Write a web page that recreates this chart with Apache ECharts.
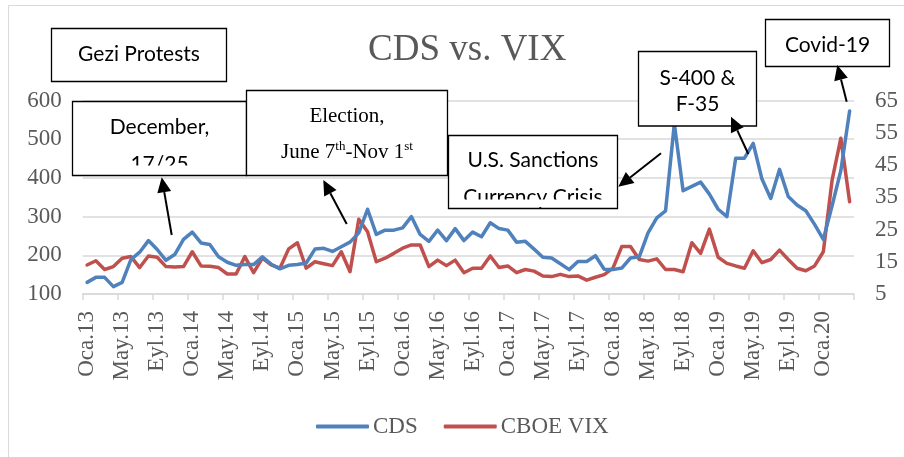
<!DOCTYPE html>
<html>
<head>
<meta charset="utf-8">
<script src="https://cdn.jsdelivr.net/npm/echarts@6/dist/echarts.min.js"></script>
<style>
  html, body { margin: 0; padding: 0; background: #ffffff; }
  #chart { width: 904px; height: 457px; }
</style>
</head>
<body>
<div id="chart"></div>
<script>
// Monthly observations, January 2013 – April 2020
const monthNames = ['Oca', 'Şub', 'Mar', 'Nis', 'May', 'Haz', 'Tem', 'Ağu', 'Eyl', 'Eki', 'Kas', 'Ara'];
const yearLabels = ['13', '14', '15', '16', '17', '18', '19', '20'];
const monthCount = 88;

// Turkey 5Y CDS (bps), left axis
const cdsValues = [
  130, 143, 143, 119, 130, 189, 208, 238, 215, 187, 202, 241,
  260, 232, 228, 196, 182, 174, 176, 176, 196, 177, 165, 174,
  176, 180, 216, 218, 210, 222, 234, 258, 319, 254, 265, 265,
  271, 300, 254, 236, 265, 238, 269, 238, 260, 248, 284, 269,
  265, 234, 236, 216, 195, 193, 178, 163, 184, 184, 199, 164,
  163, 167, 193, 196, 258, 297, 315, 540, 367, 378, 389, 358,
  319, 300, 451, 451, 489, 397, 347, 422, 352, 330, 315, 280,
  241, 328, 419, 573
];

// CBOE VIX month-end close, right axis
const vixValues = [
  14.0, 15.3, 12.6, 13.5, 16.1, 16.6, 13.2, 16.8, 16.4, 13.5, 13.4, 13.5,
  18.1, 13.7, 13.6, 13.2, 11.2, 11.2, 16.6, 11.6, 16.1, 14.0, 13.0, 19.0,
  20.9, 13.0, 15.0, 14.4, 13.8, 18.1, 11.9, 28.2, 24.3, 15.0, 16.1, 17.6,
  19.2, 20.2, 20.2, 13.5, 15.5, 13.8, 15.5, 11.6, 13.0, 13.0, 16.8, 13.2,
  13.7, 11.6, 12.6, 12.1, 10.6, 10.4, 11.1, 10.4, 10.6, 9.3, 10.2, 11.0,
  13.0, 19.7, 19.7, 15.7, 15.2, 15.9, 12.6, 12.6, 11.9, 20.9, 17.6, 25.1,
  16.4, 14.5, 13.7, 13.0, 18.4, 14.7, 15.7, 18.6, 15.7, 13.0, 12.2, 13.7,
  18.1, 40.3, 53.3, 33.6
];

const categories = [];
for (const y of yearLabels) {
  for (const m of monthNames) {
    if (categories.length < monthCount) categories.push(m + '.' + y);
  }
}

const SERIF = '"Liberation Serif", "Times New Roman", serif';
const SANS = 'Lato, "Open Sans", sans-serif';
const GREY = '#595959';
const BOX_FONT = 21;
const CDS_COLOR = '#4f81bd';
const VIX_COLOR = '#c0504d';

// Callout box with one or more centred lines
function box(x, y, w, h, lines) {
  const els = [{
    type: 'rect', z: 100,
    shape: { x: x, y: y, width: w, height: h },
    style: { fill: '#ffffff', stroke: '#000000', lineWidth: 1.3 }
  }];
  lines.forEach(function (ln) {
    els.push({
      type: 'text', z: 101,
      style: {
        text: ln.text, x: ln.x, y: ln.y,
        fill: '#000000',
        font: (ln.size || BOX_FONT) + 'px ' + (ln.family || SANS),
        align: 'center', verticalAlign: 'middle',
        textAlign: 'center', textVerticalAlign: 'middle',
        rich: ln.rich
      }
    });
  });
  return els;
}

// Strip that hides the overflowing part of a text line inside a box
function mask(x, y, w, h) {
  return {
    type: 'rect', z: 102,
    shape: { x: x, y: y, width: w, height: h },
    style: { fill: '#ffffff' }
  };
}

// Straight arrow with a filled triangular head at (x2, y2)
function arrow(x1, y1, x2, y2) {
  const dx = x2 - x1, dy = y2 - y1;
  const len = Math.sqrt(dx * dx + dy * dy);
  const ux = dx / len, uy = dy / len;
  const headLen = 15, headHalf = 7;
  const bx = x2 - ux * headLen, by = y2 - uy * headLen;
  return [
    {
      type: 'line', z: 110,
      shape: { x1: x1, y1: y1, x2: bx, y2: by },
      style: { stroke: '#000000', lineWidth: 2 }
    },
    {
      type: 'polygon', z: 110,
      shape: { points: [[x2, y2], [bx - uy * headHalf, by + ux * headHalf], [bx + uy * headHalf, by - ux * headHalf]] },
      style: { fill: '#000000' }
    }
  ];
}

const graphics = [].concat(
  [{
    type: 'rect', z: 0, silent: true,
    shape: { x: 8.5, y: 5.5, width: 910, height: 470 },
    style: { fill: 'none', stroke: '#d9d9d9', lineWidth: 1 }
  }],
  box(51.5, 28.5, 175, 53, [{ text: 'Gezi Protests', x: 139, y: 54 }]),
  box(72.5, 101.5, 174, 74, [
    { text: 'December,', x: 159.5, y: 127 },
    { text: '17/25', x: 159.5, y: 164 }
  ]),
  [mask(74, 165.5, 171, 8.5)],
  box(246.5, 90.5, 201, 85, [
    { text: 'Election,', x: 347, y: 116, family: SERIF },
    {
      text: '{m|June 7}{s|th}{m|-Nov 1}{s|st}', x: 347, y: 151, family: SERIF,
      rich: {
        m: { fontFamily: SERIF, fontSize: 21, lineHeight: 24, verticalAlign: 'bottom' },
        s: { fontFamily: SERIF, fontSize: 13, lineHeight: 24, verticalAlign: 'top', padding: [1, 0, 0, 0] }
      }
    }
  ]),
  box(448.5, 135.5, 169, 73, [
    { text: 'U.S. Sanctions', x: 533, y: 160 },
    { text: 'Currency Crisis', x: 533, y: 197.5 }
  ]),
  [mask(450, 199.5, 166, 7.5)],
  box(638.5, 51.5, 118, 74.5, [
    { text: 'S-400 &', x: 697.5, y: 78 },
    { text: 'F-35', x: 697.5, y: 104 }
  ]),
  box(765.5, 19.5, 124, 47, [{ text: 'Covid-19', x: 827.5, y: 45 }]),
  arrow(171.7, 235, 161.7, 177.3),
  arrow(346.7, 224, 323.3, 180),
  arrow(661, 153.3, 618.3, 186.7),
  arrow(748.3, 154, 731, 116.7),
  arrow(846.7, 101.7, 837.3, 65)
);

const chart = echarts.init(document.getElementById('chart'), null, { renderer: 'canvas' });

chart.setOption({
  backgroundColor: '#ffffff',
  animation: false,
  title: {
    text: 'CDS vs. VIX',
    left: 363,
    top: 27,
    textStyle: { fontFamily: SERIF, fontSize: 37, fontWeight: 'normal', color: GREY }
  },
  legend: {
    left: 311,
    top: 410,
    icon: 'roundRect',
    itemWidth: 53,
    itemHeight: 4,
    itemGap: 26,
    textStyle: { fontFamily: SERIF, fontSize: 23, color: GREY, padding: [0, 0, 0, -1] },
    data: [
      { name: 'CDS', itemStyle: { color: CDS_COLOR } },
      { name: 'CBOE VIX', itemStyle: { color: VIX_COLOR } }
    ]
  },
  grid: { left: 82.7, right: 50, top: 100.5, bottom: 163, containLabel: false },
  xAxis: {
    type: 'category',
    data: categories,
    boundaryGap: true,
    axisLine: { lineStyle: { color: '#d9d9d9', width: 1.5 } },
    axisTick: { show: true, interval: 3, length: 6, lineStyle: { color: '#d9d9d9', width: 1.5 } },
    axisLabel: {
      interval: 3, rotate: 90, margin: 17,
      fontFamily: SERIF, fontSize: 23, color: GREY
    },
    splitLine: { show: false }
  },
  yAxis: [
    {
      type: 'value', position: 'left',
      min: 100, max: 600, interval: 100,
      axisLine: { show: false }, axisTick: { show: false },
      axisLabel: { margin: 21, fontFamily: SERIF, fontSize: 23, color: GREY },
      splitLine: { show: true, lineStyle: { color: '#d9d9d9', width: 1.5 } }
    },
    {
      type: 'value', position: 'right',
      min: 5, max: 65, interval: 10,
      axisLine: { show: false }, axisTick: { show: false },
      axisLabel: { margin: 21, fontFamily: SERIF, fontSize: 23, color: GREY },
      splitLine: { show: false }
    }
  ],
  series: [
    {
      name: 'CDS', type: 'line', yAxisIndex: 0,
      data: cdsValues, symbol: 'none', z: 3,
      lineStyle: { color: CDS_COLOR, width: 3.5, cap: 'round', join: 'round' },
      itemStyle: { color: CDS_COLOR }
    },
    {
      name: 'CBOE VIX', type: 'line', yAxisIndex: 1,
      data: vixValues, symbol: 'none', z: 2,
      lineStyle: { color: VIX_COLOR, width: 3.5, cap: 'round', join: 'round' },
      itemStyle: { color: VIX_COLOR }
    }
  ],
  graphic: graphics
});
</script>
</body>
</html>
